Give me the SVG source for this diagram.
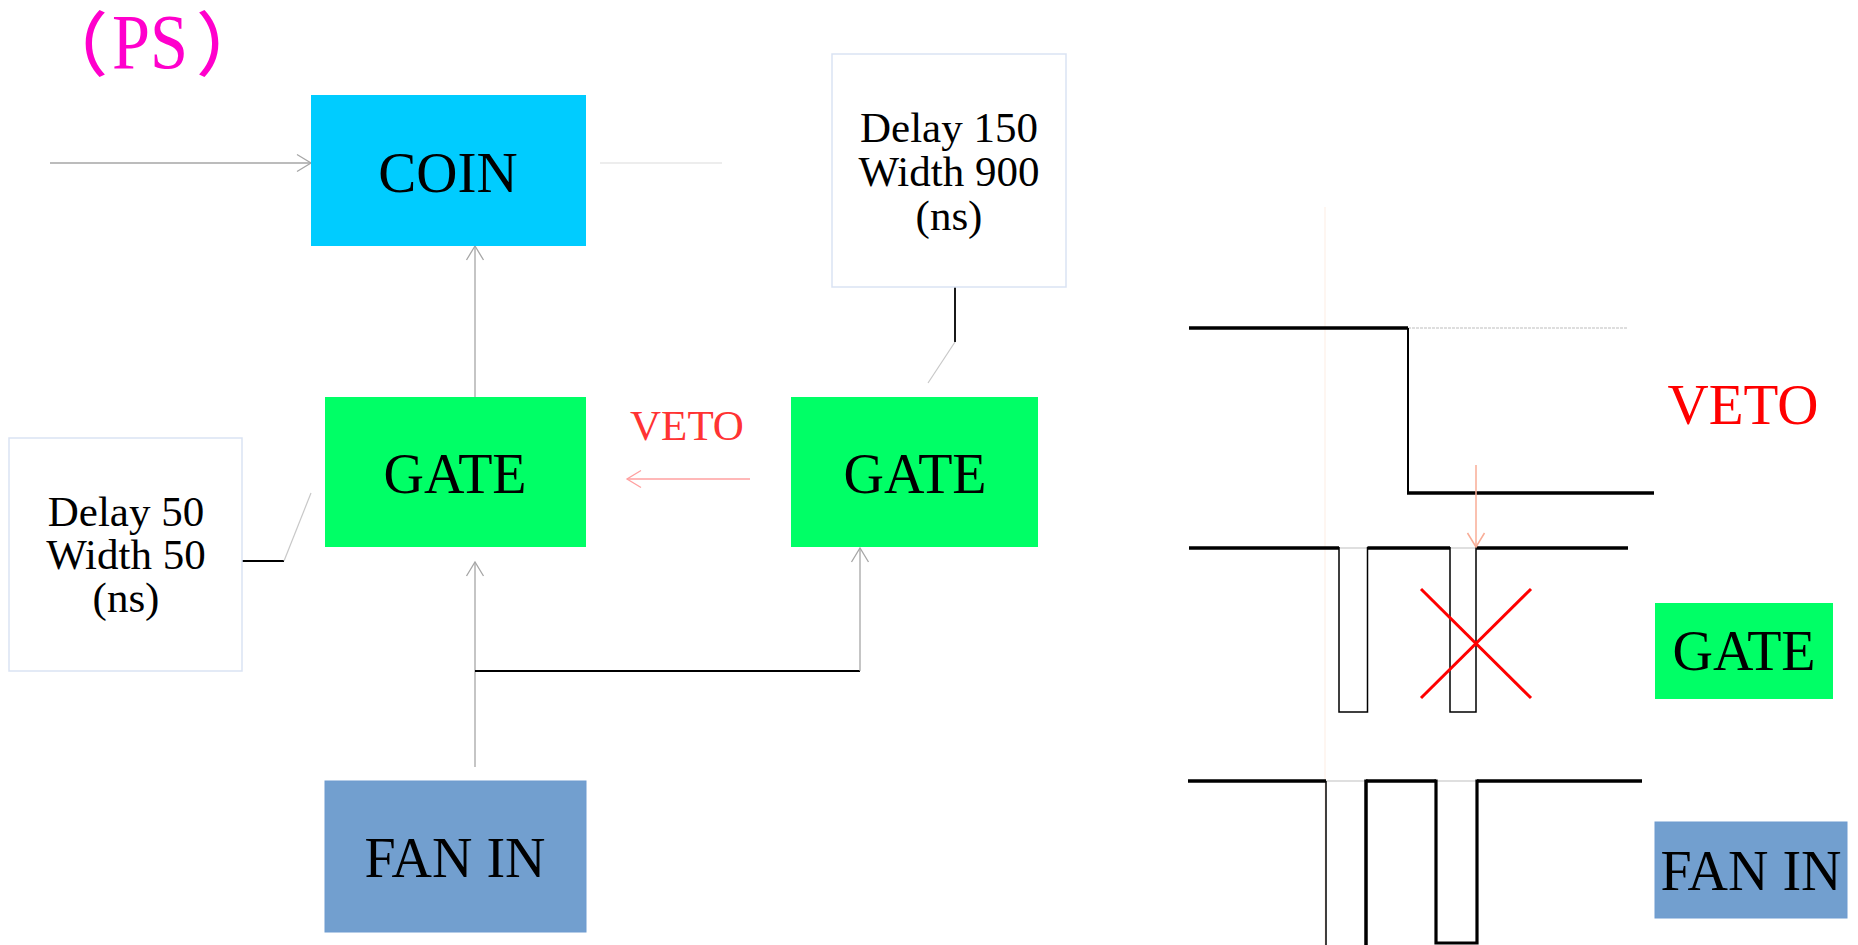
<svg xmlns="http://www.w3.org/2000/svg" width="1858" height="945" viewBox="0 0 1858 945">
<defs>
<style>
.t{font-family:"Liberation Serif","Times New Roman",serif;fill:#000;text-anchor:middle}
.big{font-size:56px}
.mid{font-size:43px}
.note{fill:#fff;stroke:#dae3f3;stroke-width:1.5}
.gate{fill:#00ff66}
.coin{fill:#00ccff}
.fan{fill:#729fcf;stroke:#6e9bd0;stroke-width:1}
.g{stroke:#a6a6a6;stroke-width:1.3;fill:none}
.lg{stroke:#c8c8c8;stroke-width:1.2;fill:none}
.k{stroke:#000;stroke-width:1.8;fill:none}
.w{stroke:#000;stroke-width:3.5;fill:none}
.wt{stroke:#000;stroke-width:1.5;fill:none}
.top{stroke:#d4d4d4;stroke-width:1.5;fill:none}
.par{font-family:"Noto Sans CJK SC",sans-serif;font-size:70px;font-weight:500}
</style>
<marker id="ag" markerUnits="userSpaceOnUse" markerWidth="20" markerHeight="20" viewBox="-16 -10 18 20" refX="0" refY="0" orient="auto">
<path d="M-14,-8.5 L0,0 L-14,8.5" fill="none" stroke="#a6a6a6" stroke-width="1.3"/>
</marker>
<marker id="ap" markerUnits="userSpaceOnUse" markerWidth="20" markerHeight="20" viewBox="-16 -10 18 20" refX="0" refY="0" orient="auto">
<path d="M-14,-8.5 L0,0 L-14,8.5" fill="none" stroke="#ffa0a0" stroke-width="1.3"/>
</marker>
<marker id="as" markerUnits="userSpaceOnUse" markerWidth="20" markerHeight="20" viewBox="-16 -10 18 20" refX="0" refY="0" orient="auto">
<path d="M-14,-8.5 L0,0 L-14,8.5" fill="none" stroke="#f8ac96" stroke-width="1.5"/>
</marker>
</defs>

<text y="70" font-size="78" fill="#ff00cc" font-family="Liberation Serif, serif"><tspan class="par" x="38">（</tspan><tspan x="112" y="68" font-family="Liberation Serif, serif" textLength="76" lengthAdjust="spacingAndGlyphs">PS</tspan><tspan class="par" x="196" y="70">）</tspan></text>

<g id="connectors">
<line class="g" x1="50" y1="163" x2="311" y2="163" marker-end="url(#ag)"/>
<line x1="600" y1="163" x2="722" y2="163" stroke="#dcdcdc" stroke-width="1.2"/>
<line class="g" x1="475" y1="397" x2="475" y2="246" marker-end="url(#ag)"/>
<line class="g" x1="475" y1="767" x2="475" y2="562" marker-end="url(#ag)"/>
<line class="k" x1="475" y1="671" x2="860" y2="671"/>
<line class="g" x1="860" y1="671" x2="860" y2="548" marker-end="url(#ag)"/>
<line x1="750" y1="479" x2="627" y2="479" stroke="#ffa0a0" stroke-width="1.3" marker-end="url(#ap)"/>
<polyline class="k" points="955,287 955,342"/>
<line class="lg" x1="955" y1="342" x2="928" y2="383"/>
<polyline class="k" points="242,561 284,561"/>
<line class="lg" x1="284" y1="561" x2="311" y2="493"/>
</g>

<g id="coin">
<rect class="coin" x="311" y="95" width="275" height="151"/>
<text class="t" x="448" y="192" font-size="57">COIN</text>
</g>

<g id="delay150">
<rect class="note" x="832" y="54" width="234" height="233"/>
<text class="t mid" x="949" y="142">Delay 150</text>
<text class="t mid" x="949" y="186">Width 900</text>
<text class="t mid" x="949" y="230">(ns)</text>
</g>

<g id="delay50">
<rect class="note" x="9" y="438" width="233" height="233"/>
<text class="t mid" x="126" y="526">Delay 50</text>
<text class="t mid" x="126" y="569">Width 50</text>
<text class="t mid" x="126" y="612">(ns)</text>
</g>

<g id="gate-left">
<rect class="gate" x="325" y="397" width="261" height="150"/>
<text class="t big" x="455" y="493">GATE</text>
</g>

<g id="gate-right">
<rect class="gate" x="791" y="397" width="247" height="150"/>
<text class="t big" x="915" y="493">GATE</text>
</g>

<g id="veto-label">
<text x="687" y="440" font-family="Liberation Serif, serif" font-size="43" fill="#ff3333" text-anchor="middle">VETO</text>
</g>

<g id="fanin">
<rect class="fan" x="325" y="781" width="261" height="151"/>
<text class="t big" x="455" y="877">FAN IN</text>
</g>

<g id="timing">
<line x1="1325" y1="207" x2="1325" y2="945" stroke="#fef1ea" stroke-width="1.3"/>
<!-- veto waveform -->
<line class="w" x1="1189" y1="328" x2="1408" y2="328"/>
<line class="top" x1="1408" y1="328" x2="1628" y2="328" stroke-dasharray="3,1"/>
<line x1="1408" y1="328" x2="1408" y2="493" stroke="#000" stroke-width="2"/>
<line class="w" x1="1407" y1="493" x2="1654" y2="493"/>
<text x="1743" y="424" font-family="Liberation Serif, serif" font-size="57" fill="#ff0000" text-anchor="middle">VETO</text>
<!-- gate waveform -->
<line class="w" x1="1189" y1="548" x2="1339" y2="548"/>
<line class="top" x1="1339" y1="548" x2="1367.5" y2="548"/>
<line class="w" x1="1367.5" y1="548" x2="1450" y2="548"/>
<line class="top" x1="1450" y1="548" x2="1476" y2="548"/>
<line class="w" x1="1476" y1="548" x2="1628" y2="548"/>
<polyline class="wt" points="1339,547 1339,712 1367.5,712 1367.5,547"/>
<polyline class="wt" points="1450,547 1450,712 1476,712 1476,547"/>
<line x1="1476" y1="465" x2="1476" y2="547" stroke="#f8ac96" stroke-width="1.5" marker-end="url(#as)"/>
<line x1="1421" y1="589" x2="1531" y2="698" stroke="#ff0000" stroke-width="3"/>
<line x1="1531" y1="589" x2="1421" y2="698" stroke="#ff0000" stroke-width="3"/>
<!-- fan in waveform -->
<line class="w" x1="1188" y1="781" x2="1326" y2="781"/>
<line class="top" x1="1326" y1="781" x2="1366" y2="781"/>
<line class="w" x1="1366" y1="781" x2="1436" y2="781"/>
<line class="top" x1="1436" y1="781" x2="1477" y2="781"/>
<line class="w" x1="1477" y1="781" x2="1642" y2="781"/>
<line x1="1326" y1="781" x2="1326" y2="945" stroke="#000" stroke-width="1.5"/>
<line x1="1366" y1="779.5" x2="1366" y2="945" stroke="#000" stroke-width="3.5"/>
<polyline points="1436,779.5 1436,943 1477,943 1477,779.5" stroke="#000" stroke-width="3.2" fill="none"/>
</g>

<g id="gate-label">
<rect class="gate" x="1655" y="603" width="178" height="96"/>
<text class="t big" x="1744" y="670">GATE</text>
</g>

<g id="fanin-label">
<rect class="fan" x="1655" y="822" width="192" height="96"/>
<text class="t big" x="1751" y="890">FAN IN</text>
</g>
</svg>
